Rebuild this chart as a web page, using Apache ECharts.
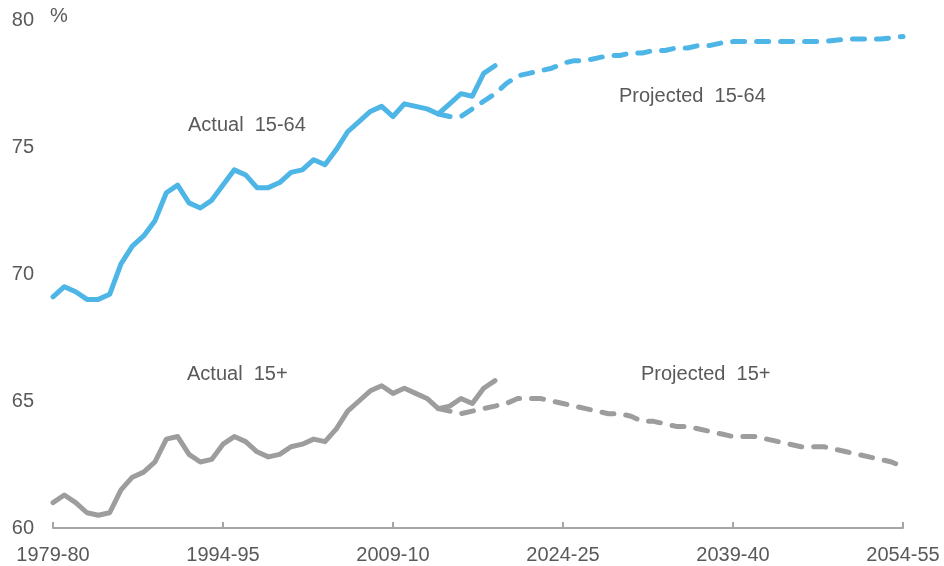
<!DOCTYPE html>
<html>
<head>
<meta charset="utf-8">
<script src="https://cdn.jsdelivr.net/npm/echarts@6/dist/echarts.min.js"></script>
<style>
  html, body { margin: 0; padding: 0; background: #fff; }
  #chart { width: 944px; height: 566px; }
</style>
</head>
<body>
<div id="chart"></div>
<script>
// Financial years 1979-80 .. 2054-55
const firstYear = 1979;
const lastYear = 2054;
const years = [];
for (let y = firstYear; y <= lastYear; y++) {
  years.push(y + '-' + String((y + 1) % 100).padStart(2, '0'));
}

// Participation rate, aged 15-64 (actual, 1979-80 to 2018-19)
const actual1564 = [
  69.1, 69.5, 69.3, 69.0, 69.0, 69.2, 70.4, 71.1, 71.5, 72.1,
  73.2, 73.5, 72.8, 72.6, 72.9, 73.5, 74.1, 73.9, 73.4, 73.4,
  73.6, 74.0, 74.1, 74.5, 74.3, 74.9, 75.6, 76.0, 76.4, 76.6,
  76.2, 76.7, 76.6, 76.5, 76.3, 76.7, 77.1, 77.0, 77.9, 78.2
];

// Participation rate, aged 15-64 (projected, 2013-14 to 2054-55)
const projected1564 = [
  76.3, 76.2, 76.2, 76.5, 76.8, 77.1, 77.5, 77.8, 77.9, 78.0,
  78.1, 78.3, 78.4, 78.4, 78.5, 78.6, 78.6, 78.7, 78.7, 78.8,
  78.8, 78.9, 78.9, 79.0, 79.0, 79.1, 79.15, 79.15, 79.15, 79.15,
  79.15, 79.15, 79.15, 79.15, 79.15, 79.2, 79.25, 79.25, 79.25, 79.25,
  79.3, 79.35
];

// Participation rate, aged 15+ (actual, 1979-80 to 2018-19)
const actual15plus = [
  61.0, 61.3, 61.0, 60.6, 60.5, 60.6, 61.5, 62.0, 62.2, 62.6,
  63.5, 63.6, 62.9, 62.6, 62.7, 63.3, 63.6, 63.4, 63.0, 62.8,
  62.9, 63.2, 63.3, 63.5, 63.4, 63.9, 64.6, 65.0, 65.4, 65.6,
  65.3, 65.5, 65.3, 65.1, 64.7, 64.8, 65.1, 64.9, 65.5, 65.8
];

// Participation rate, aged 15+ (projected, 2013-14 to 2054-55)
const projected15plus = [
  64.7, 64.6, 64.5, 64.6, 64.7, 64.8, 64.9, 65.1, 65.1, 65.1,
  65.0, 64.9, 64.8, 64.7, 64.6, 64.5, 64.5, 64.4, 64.2, 64.2,
  64.1, 64.0, 64.0, 63.9, 63.8, 63.7, 63.6, 63.6, 63.6, 63.5,
  63.4, 63.3, 63.2, 63.2, 63.2, 63.1, 63.0, 62.9, 62.8, 62.7,
  62.6, 62.4
];

const projectionStart = 2013;

// Y-axis ticks
const yMin = 60, yMax = 80, yStep = 5;

// Align each series to the full year range
function alignFrom(startYear, values) {
  const out = years.map(() => null);
  values.forEach((v, i) => { out[startYear - firstYear + i] = v; });
  return out;
}

const blue = '#4eb5e7';
const grey = '#9d9d9d';
const textColor = '#595959';
const fontFamily = 'Liberation Sans, Arial, sans-serif';
const fontSize = 20;

const chart = echarts.init(document.getElementById('chart'), null, { renderer: 'canvas' });

const solid = (color) => ({ width: 5, color: color, cap: 'round', join: 'round' });
const dashed = (color) => ({ width: 5, color: color, type: [12, 12], cap: 'round', join: 'round' });

const labelStyle = { fill: textColor, fontSize: fontSize, fontFamily: fontFamily };

chart.setOption({
  animation: false,
  backgroundColor: '#ffffff',
  grid: { left: 53, right: 41, top: 20, bottom: 38 },
  xAxis: {
    type: 'category',
    data: years,
    boundaryGap: false,
    axisLine: { lineStyle: { color: '#a6a6a6', width: 2 } },
    axisTick: { inside: true, length: 6, interval: 14, lineStyle: { color: '#a6a6a6', width: 2 } },
    axisLabel: { interval: 14, color: textColor, fontSize: fontSize, fontFamily: fontFamily, margin: 17 },
    splitLine: { show: false }
  },
  yAxis: {
    type: 'value',
    min: yMin,
    max: yMax,
    interval: yStep,
    axisLine: { show: false },
    axisTick: { show: false },
    splitLine: { show: false },
    axisLabel: { color: textColor, fontSize: fontSize, fontFamily: fontFamily, margin: 19 }
  },
  series: [
    { name: 'Projected 15-64', type: 'line', data: alignFrom(projectionStart, projected1564),
      showSymbol: false, lineStyle: dashed(blue), z: 2 },
    { name: 'Actual 15-64', type: 'line', data: alignFrom(firstYear, actual1564),
      showSymbol: false, lineStyle: solid(blue), z: 3 },
    { name: 'Projected 15+', type: 'line', data: alignFrom(projectionStart, projected15plus),
      showSymbol: false, lineStyle: dashed(grey), z: 2 },
    { name: 'Actual 15+', type: 'line', data: alignFrom(firstYear, actual15plus),
      showSymbol: false, lineStyle: solid(grey), z: 3 }
  ],
  graphic: [
    { type: 'text', left: 50, top: 6, style: Object.assign({ text: '%' }, labelStyle) },
    { type: 'text', left: 188, top: 115, style: Object.assign({ text: 'Actual  15-64' }, labelStyle) },
    { type: 'text', left: 619, top: 86, style: Object.assign({ text: 'Projected  15-64' }, labelStyle) },
    { type: 'text', left: 187, top: 364, style: Object.assign({ text: 'Actual  15+' }, labelStyle) },
    { type: 'text', left: 641, top: 364, style: Object.assign({ text: 'Projected  15+' }, labelStyle) }
  ]
});
</script>
</body>
</html>
